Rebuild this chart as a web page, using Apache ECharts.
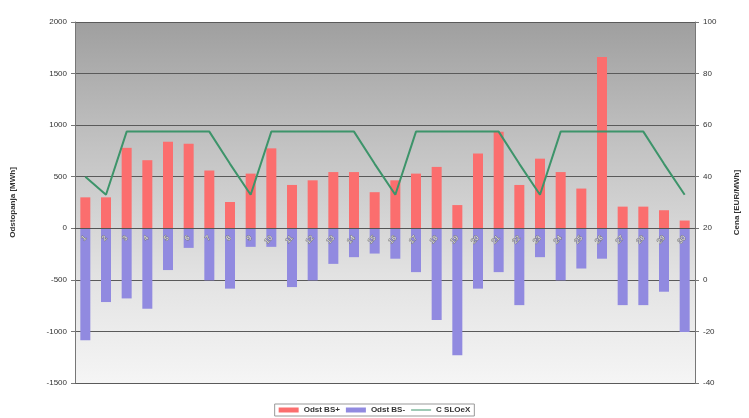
<!DOCTYPE html>
<html>
<head>
<meta charset="utf-8">
<script src="https://cdn.jsdelivr.net/npm/echarts@6/dist/echarts.min.js"></script>
<style>
html,body{margin:0;padding:0;background:#fff;}
#c{width:749px;height:418px;}
</style>
</head>
<body>
<div id="c"></div>
<script>
const categories = ['1','2','3','4','5','6','7','8','9','10','11','12','13','14','15','16','17','18','19','20','21','22','23','24','25','26','27','28','29','30'];
const bsPlus = [300,300,780,660,840,820,560,255,530,775,420,465,545,545,350,465,530,595,225,725,935,420,675,545,385,1660,210,210,175,75];
const bsMinus = [-1085,-715,-680,-780,-405,-190,-505,-585,-180,-180,-570,-505,-345,-280,-245,-295,-425,-890,-1230,-585,-425,-745,-280,-505,-390,-295,-745,-745,-615,-1005];
const price = [40,33,57.5,57.5,57.5,57.5,57.5,45,33,57.5,57.5,57.5,57.5,57.5,45,33,57.5,57.5,57.5,57.5,57.5,45,33,57.5,57.5,57.5,57.5,57.5,45,33];
const leftTicks = {min:-1500, max:2000, interval:500};
const rightTicks = {min:-40, max:100, interval:20};

const chart = echarts.init(document.getElementById('c'), null, {renderer:'canvas'});
const lab = {fontFamily:'Liberation Sans, Arial, sans-serif', fontSize:8, color:'#333'};
const plain = v => String(v);
chart.setOption({
  animation:false,
  backgroundColor:'#ffffff',
  grid:{left:75, right:52, top:22, bottom:35, show:true, borderWidth:0,
    backgroundColor:new echarts.graphic.LinearGradient(0,0,0,1,[
      {offset:0,color:'#9f9f9f'},{offset:0.35,color:'#c3c3c3'},{offset:0.7,color:'#e2e2e2'},{offset:1,color:'#f5f5f5'}])},
  legend:{bottom:2, left:'center', itemWidth:20, itemHeight:5, itemGap:6,
    borderColor:'#999', borderWidth:1, padding:[2,4],
    textStyle:{fontFamily:'Liberation Sans, Arial, sans-serif', fontSize:8, fontWeight:'bold', color:'#333'},
    data:[{name:'Odst BS+', icon:'rect'},{name:'Odst BS-', icon:'rect'},
          {name:'C SLOeX', icon:'path://M0,0 L20,0 L20,1 L0,1 Z', itemStyle:{color:'#3d946a'}}]},
  xAxis:{type:'category', data:categories, z:10,
    axisLine:{onZero:true, onZeroAxisIndex:0, lineStyle:{color:'#555', width:1}},
    axisTick:{show:false},
    axisLabel:{...lab, fontSize:7, rotate:45, color:'#e8e8e8', margin:-146,
      textBorderColor:'#777', textBorderWidth:1},
    splitLine:{show:false}},
  yAxis:[
    {type:'value', min:leftTicks.min, max:leftTicks.max, interval:leftTicks.interval,
     name:'Odstopanja [MWh]', nameLocation:'middle', nameGap:58, nameRotate:90,
     nameTextStyle:{...lab, fontWeight:'bold'},
     axisLine:{show:true, lineStyle:{color:'#777'}}, axisTick:{show:true, length:4, lineStyle:{color:'#777'}},
     axisLabel:{...lab, margin:8, formatter:plain},
     splitLine:{show:true, lineStyle:{color:'#5a5a5a', width:1}}},
    {type:'value', min:rightTicks.min, max:rightTicks.max, interval:rightTicks.interval,
     name:'Cena [EUR/MWh]', nameLocation:'middle', nameGap:38, nameRotate:90,
     nameTextStyle:{...lab, fontWeight:'bold'},
     axisLine:{show:true, lineStyle:{color:'#777'}}, axisTick:{show:true, length:4, lineStyle:{color:'#777'}},
     axisLabel:{...lab, margin:8, formatter:plain},
     splitLine:{show:false}}
  ],
  series:[
    {name:'Odst BS+', type:'bar', data:bsPlus, barWidth:10, itemStyle:{color:'#fb6e6e'}},
    {name:'Odst BS-', type:'bar', data:bsMinus, barWidth:10, barGap:'-100%', itemStyle:{color:'#918ae0'}},
    {name:'C SLOeX', type:'line', yAxisIndex:1, data:price, symbol:'none', z:5,
     lineStyle:{color:'#3d946a', width:2}, itemStyle:{color:'#3d946a'}}
  ]
});
</script>
</body>
</html>
